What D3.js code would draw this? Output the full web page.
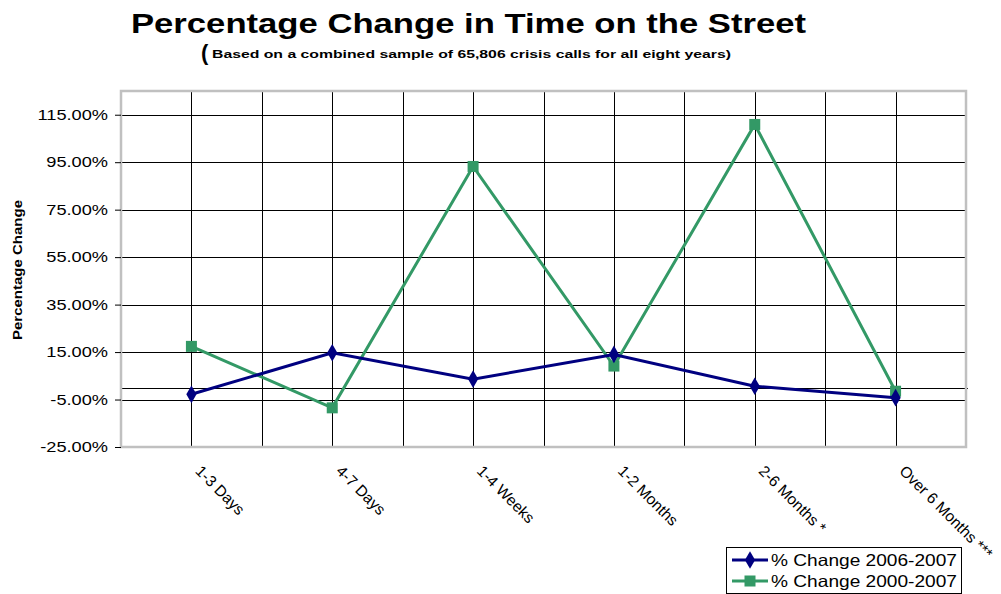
<!DOCTYPE html>
<html>
<head>
<meta charset="utf-8">
<script src="https://cdnjs.cloudflare.com/ajax/libs/d3/7.8.5/d3.min.js"></script>
<style>
  body { margin: 0; background: #fff; }
  text { font-family: Arial, "Liberation Sans", sans-serif; }
</style>
</head>
<body>
<div class="chart"></div>
<script>
// categories and series
var categories = ["1-3 Days", "4-7 Days", "1-4 Weeks", "1-2 Months", "2-6 Months *", "Over 6 Months ***"];
var change0607 = [-2.8, 14.7, 3.6, 14.0, 0.6, -4.2];
var change0007 = [17.4, -8.5, 93.2, 9.1, 110.9, -1.5];
var yTicks = [-25, -5, 15, 35, 55, 75, 95, 115];
var seriesNames = ["% Change 2006-2007", "% Change 2000-2007"];

var W = 1001, H = 594;
var margin = {top: 91, right: 35, bottom: 147, left: 121},
    width = W - margin.left - margin.right,
    height = H - margin.top - margin.bottom;

// the original text is drawn a bit wider than Arial, so stretch it
function stretch(sel, f) {
  sel.each(function(){
    var len = this.getComputedTextLength();
    d3.select(this)
        .attr("textLength", len * f)
        .attr("lengthAdjust", "spacingAndGlyphs");
  });
}

var svg = d3.select(".chart").append("svg")
    .attr("width", W)
    .attr("height", H);

// titles
svg.append("text")
    .attr("x", 131).attr("y", 33)
    .attr("textLength", 675).attr("lengthAdjust", "spacingAndGlyphs")
    .style("font-size", "28px").style("font-weight", "bold")
    .text("Percentage Change in Time on the Street");

svg.append("text")
    .attr("x", 201).attr("y", 60)
    .style("font-size", "22px").style("font-weight", "bold")
    .text("(");
svg.append("text")
    .attr("x", 212).attr("y", 57.5)
    .attr("textLength", 519).attr("lengthAdjust", "spacingAndGlyphs")
    .style("font-size", "10.5px").style("font-weight", "bold")
    .text("Based on a combined sample of 65,806 crisis calls for all eight years)");

var g = svg.append("g")
    .attr("transform", "translate(" + margin.left + "," + margin.top + ")");

var x = d3.scalePoint()
    .domain(categories)
    .range([0, width])
    .padding(0.5);

var band = d3.scaleBand()
    .domain(categories)
    .range([0, width]);

var y = d3.scaleLinear()
    .domain([-25, 125])
    .range([height, 0]);

// horizontal gridlines
g.selectAll(".hgrid")
    .data(yTicks)
  .enter().append("line")
    .attr("class", "hgrid")
    .attr("x1", 0).attr("x2", width)
    .attr("y1", function(d){ return Math.round(y(d)) + 0.5; })
    .attr("y2", function(d){ return Math.round(y(d)) + 0.5; })
    .attr("stroke", "#000").attr("stroke-width", 1);

// vertical gridlines: category centres and category boundaries
var vlines = categories.map(function(c){ return x(c); })
    .concat(categories.slice(1).map(function(c){ return band(c); }));
g.selectAll(".vgrid")
    .data(vlines)
  .enter().append("line")
    .attr("class", "vgrid")
    .attr("x1", function(d){ return Math.round(d) + 0.5; })
    .attr("x2", function(d){ return Math.round(d) + 0.5; })
    .attr("y1", 0).attr("y2", height)
    .attr("stroke", "#000").attr("stroke-width", 1);

// zero line (category axis)
g.append("line")
    .attr("x1", 0).attr("x2", width + 2)
    .attr("y1", Math.round(y(0)) + 0.5).attr("y2", Math.round(y(0)) + 0.5)
    .attr("stroke", "#000").attr("stroke-width", 1);

// plot border
g.append("rect")
    .attr("x", 0).attr("y", 0)
    .attr("width", width).attr("height", height)
    .attr("fill", "none")
    .attr("stroke", "#c0c0c0").attr("stroke-width", 2.5);

// y axis
var yAxis = d3.axisLeft(y)
    .tickValues(yTicks)
    .tickSize(6)
    .tickPadding(7)
    .tickFormat(function(d){ return d.toFixed(2) + "%"; });

var ya = g.append("g").call(yAxis);
ya.select(".domain").remove();
ya.selectAll("line").attr("stroke", "#000");
ya.selectAll("text")
    .style("font-size", "14px")
    .attr("fill", "#000")
    .call(stretch, 1.3);

svg.append("text")
    .attr("transform", "translate(22,270) rotate(-90)")
    .attr("text-anchor", "middle")
    .attr("textLength", 140).attr("lengthAdjust", "spacingAndGlyphs")
    .style("font-size", "12.5px").style("font-weight", "bold")
    .text("Percentage Change");

// x labels, rotated
g.selectAll(".xlab")
    .data(categories)
  .enter().append("text")
    .attr("class", "xlab")
    .attr("transform", function(d){
      return "translate(" + (x(d) + 3) + "," + (height + 25) + ") rotate(45)";
    })
    .style("font-size", "15.5px")
    .text(function(d){ return d; });

// series
var line = d3.line()
    .x(function(d, i){ return x(categories[i]); })
    .y(function(d){ return y(d); });

g.append("path")
    .datum(change0007)
    .attr("d", line)
    .attr("fill", "none")
    .attr("stroke", "#339966").attr("stroke-width", 3);

g.selectAll(".sq")
    .data(change0007)
  .enter().append("rect")
    .attr("class", "sq")
    .attr("x", function(d, i){ return x(categories[i]) - 5.5; })
    .attr("y", function(d){ return y(d) - 5.5; })
    .attr("width", 11).attr("height", 11)
    .attr("fill", "#339966");

g.append("path")
    .datum(change0607)
    .attr("d", line)
    .attr("fill", "none")
    .attr("stroke", "#000080").attr("stroke-width", 3);

var diamond = d3.symbol().type(d3.symbolDiamond).size(90);
g.selectAll(".dm")
    .data(change0607)
  .enter().append("path")
    .attr("class", "dm")
    .attr("d", diamond)
    .attr("transform", function(d, i){
      return "translate(" + x(categories[i]) + "," + y(d) + ")";
    })
    .attr("fill", "#000080");

// legend
var leg = svg.append("g").attr("transform", "translate(726,547)");
leg.append("rect")
    .attr("x", 0.5).attr("y", 0.5)
    .attr("width", 235).attr("height", 46)
    .attr("fill", "#fff").attr("stroke", "#000").attr("stroke-width", 1);

var legColors = ["#000080", "#339966"];
seriesNames.forEach(function(name, i){
  var ly = 13 + i * 21;
  leg.append("line")
      .attr("x1", 6).attr("x2", 42)
      .attr("y1", ly).attr("y2", ly)
      .attr("stroke", legColors[i]).attr("stroke-width", 3);
  if (i === 0) {
    leg.append("path")
        .attr("d", diamond)
        .attr("transform", "translate(24," + ly + ")")
        .attr("fill", legColors[i]);
  } else {
    leg.append("rect")
        .attr("x", 18.5).attr("y", ly - 5.5)
        .attr("width", 11).attr("height", 11)
        .attr("fill", legColors[i]);
  }
  leg.append("text")
      .attr("x", 45).attr("y", ly + 6)
      .attr("textLength", 186).attr("lengthAdjust", "spacingAndGlyphs")
      .style("font-size", "16.5px")
      .text(name);
});
</script>
</body>
</html>
